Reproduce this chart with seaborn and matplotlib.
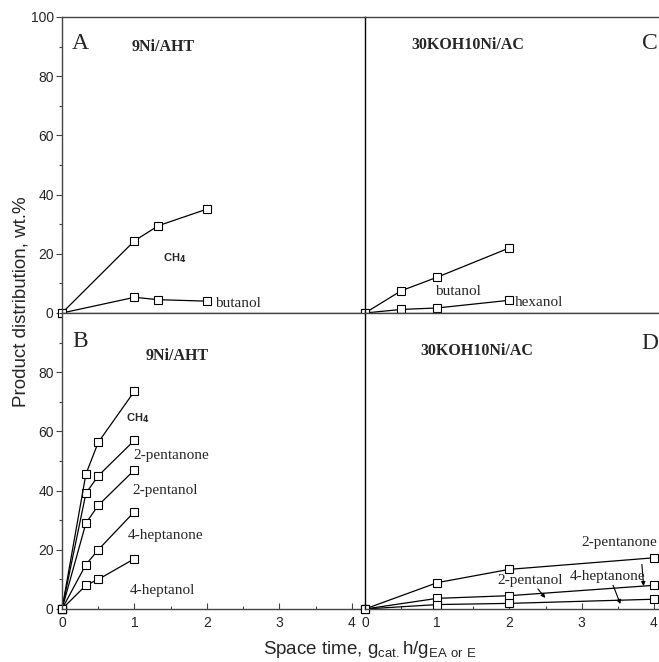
import pandas as pd
import matplotlib.pyplot as plt
import seaborn as sns
from matplotlib.ticker import MultipleLocator

# Panel A: 9Ni/AHT, ethanol feed
a_x = [0, 1, 1.33, 2]
a_ch4 = [0, 24.4, 29.5, 35.1]
a_butanol = [0, 5.3, 4.5, 4.0]

# Panel C: 30KOH10Ni/AC, ethanol feed
c_x = [0, 0.5, 1, 2]
c_butanol = [0, 7.5, 12.1, 22.0]
c_hexanol = [0, 1.2, 1.7, 4.3]

# Panel B: 9Ni/AHT, ethyl acetate feed
b_x = [0, 0.33, 0.5, 1]
b_ch4 = [0, 45.6, 56.3, 73.6]
b_2pentanone = [0, 39.1, 45.0, 57.0]
b_2pentanol = [0, 29.0, 35.0, 47.0]
b_4heptanone = [0, 15.0, 20.0, 32.9]
b_4heptanol = [0, 8.0, 10.0, 17.0]

# Panel D: 30KOH10Ni/AC, ethyl acetate feed
d_x = [0, 1, 2, 4]
d_2pentanone = [0, 8.9, 13.4, 17.3]
d_2pentanol = [0, 3.6, 4.5, 8.0]
d_4heptanone = [0, 1.5, 1.9, 3.3]


def long_df(x, series):
    rows = []
    for name, ys in series.items():
        for xi, yi in zip(x, ys):
            rows.append({'x': xi, 'y': yi, 'series': name})
    return pd.DataFrame(rows)


sns.set_style('ticks')
plt.rcParams['font.family'] = ['Liberation Sans', 'DejaVu Sans']
plt.rcParams['mathtext.fontset'] = 'custom'
plt.rcParams['mathtext.rm'] = 'Liberation Sans'

fig = plt.figure(figsize=(6.59, 6.62), dpi=100)
W, H = 659, 662


def box(x0, y0, x1, y1):
    return [x0 / W, 1 - y1 / H, (x1 - x0) / W, (y1 - y0) / H]


axA = fig.add_axes(box(62, 17, 365, 313))
axC = fig.add_axes(box(365, 17, 672, 313))
axB = fig.add_axes(box(62, 313, 365, 609))
axD = fig.add_axes(box(365, 313, 672, 609))

line_kw = dict(color='black', marker='s', markersize=5.8, markerfacecolor='white',
               markeredgecolor='black', markeredgewidth=0.8, linewidth=0.9,
               estimator=None, units='series', legend=False, clip_on=False)

sns.lineplot(data=long_df(a_x, {'CH4': a_ch4, 'butanol': a_butanol}),
             x='x', y='y', ax=axA, **line_kw)
sns.lineplot(data=long_df(c_x, {'butanol': c_butanol, 'hexanol': c_hexanol}),
             x='x', y='y', ax=axC, **line_kw)
sns.lineplot(data=long_df(b_x, {'CH4': b_ch4, '2-pentanone': b_2pentanone,
                                '2-pentanol': b_2pentanol, '4-heptanone': b_4heptanone,
                                '4-heptanol': b_4heptanol}),
             x='x', y='y', ax=axB, **line_kw)
sns.lineplot(data=long_df(d_x, {'2-pentanone': d_2pentanone, '2-pentanol': d_2pentanol,
                                '4-heptanone': d_4heptanone}),
             x='x', y='y', ax=axD, **line_kw)

spine_c = '#444444'
for ax in (axA, axB, axC, axD):
    ax.set_ylim(0, 100)
    ax.set_xlabel('')
    ax.set_ylabel('')
    for s in ax.spines.values():
        s.set_color(spine_c)
        s.set_linewidth(1.0)
    ax.xaxis.set_major_locator(MultipleLocator(1))
    ax.xaxis.set_minor_locator(MultipleLocator(0.5))
    ax.yaxis.set_major_locator(MultipleLocator(20))
    ax.yaxis.set_minor_locator(MultipleLocator(10))
    ax.tick_params(axis='x', which='major', direction='in', length=4, width=0.8,
                   color=spine_c, labelsize=10, pad=5)
    ax.tick_params(axis='x', which='minor', direction='in', length=2.5, width=0.8,
                   color=spine_c)
    ax.tick_params(axis='y', which='major', direction='out', length=4, width=0.8,
                   color=spine_c, labelsize=10, pad=2)
    ax.tick_params(axis='y', which='minor', direction='out', length=2.5, width=0.8,
                   color=spine_c)

for ax in (axA, axB):
    ax.set_xlim(0, 4.18)
    ax.spines['right'].set_visible(False)
for ax in (axC, axD):
    ax.set_xlim(0, 4.25)
    ax.spines['right'].set_visible(False)
    ax.spines['left'].set_color('black')
    ax.tick_params(axis='y', which='both', left=False, labelleft=False)
for ax in (axA, axC):
    ax.tick_params(axis='x', which='both', bottom=False, labelbottom=False)

axA.set_yticks([0, 20, 40, 60, 80, 100])
axB.set_yticks([0, 20, 40, 60, 80])
axB.set_xticks([0, 1, 2, 3, 4])
axD.set_xticks([0, 1, 2, 3, 4])

serif = ['Liberation Serif', 'DejaVu Serif']
lab = dict(family=serif, fontsize=11, va='center')
big = dict(family=serif, fontsize=17, va='center')
head = dict(family=serif, fontsize=11.5, fontweight='bold', va='center')
ch4 = dict(fontsize=8, fontweight='bold', va='center')

# Panel A
axA.text(0.14, 91, 'A', **big)
axA.text(0.96, 90, '9Ni/AHT', **head)
axA.text(1.39, 18.6, r'CH$_\mathbf{4}$', **ch4)
axA.text(2.11, 3.2, 'butanol', **lab)

# Panel C
axC.text(3.84, 91, 'C', **big)
axC.text(0.64, 90.5, '30KOH10Ni/AC', **head)
axC.text(0.975, 7.3, 'butanol', **lab)
axC.text(2.08, 3.4, 'hexanol', **lab)

# Panel B
axB.text(0.14, 90.3, 'B', **big)
axB.text(1.16, 85.5, '9Ni/AHT', **head)
axB.text(0.88, 64.4, r'CH$_\mathbf{4}$', **ch4)
axB.text(0.99, 52, '2-pentanone', **lab)
axB.text(0.97, 39.9, '2-pentanol', **lab)
axB.text(0.91, 24.7, '4-heptanone', **lab)
axB.text(0.93, 6.4, '4-heptanol', **lab)

# Panel D
axD.text(3.83, 89.8, 'D', **big)
axD.text(0.76, 87.3, '30KOH10Ni/AC', **head)
arrow = dict(arrowstyle='-|>', color='black', lw=0.8, mutation_scale=6)
axD.text(3.0, 22.4, '2-pentanone', **lab)
axD.annotate('', xy=(3.86, 6.8), xytext=(3.83, 16.0), arrowprops=arrow)
axD.text(1.83, 9.5, '2-pentanol', **lab)
axD.annotate('', xy=(2.52, 3.0), xytext=(2.37, 7.5), arrowprops=arrow)
axD.text(2.83, 11.1, '4-heptanone', **lab)
axD.annotate('', xy=(3.55, 0.8), xytext=(3.42, 8.9), arrowprops=arrow)

fig.text(21 / W, 1 - 302 / H, 'Product distribution, wt.%', rotation=90,
         ha='center', va='center', fontsize=13.5)
fig.text(370 / W, 1 - 650 / H,
         r'Space time, g$_{\mathrm{cat.}}$h/g$_{\mathrm{EA\ or\ E}}$',
         ha='center', va='center', fontsize=13.5)

fig.savefig('out.png', dpi=100)
